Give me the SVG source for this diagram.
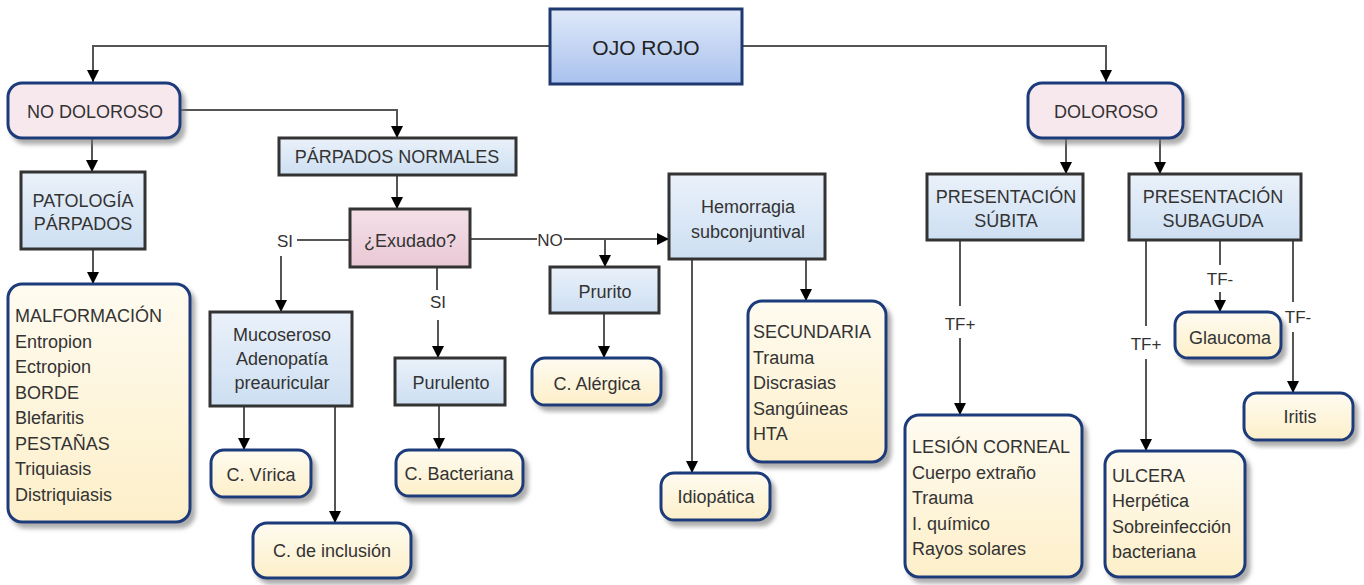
<svg xmlns="http://www.w3.org/2000/svg" width="1364" height="585" viewBox="0 0 1364 585">
<style>
text{font-family:"Liberation Sans",Arial,sans-serif;font-size:18px;fill:#333}
.c{text-anchor:middle}
.lbl{font-size:17px}
.big{font-size:21px;fill:#222}
.blue{fill:url(#gBlue);stroke:#333;stroke-width:3}
.pk{fill:url(#gPinkR);stroke:#333;stroke-width:3}
.top{fill:url(#gTop);stroke:#1f3870;stroke-width:3}
.cr{fill:url(#gCream);stroke:#1b3a7a;stroke-width:3;filter:url(#sh)}
.pr{fill:#f7e8ee;stroke:#1b3a7a;stroke-width:3;filter:url(#sh)}
.ln{fill:none;stroke:#555;stroke-width:2}
.ar{marker-end:url(#arr)}
</style>
<defs>
<linearGradient id="gBlue" x1="0" y1="0" x2="0" y2="1"><stop offset="0" stop-color="#eaf1fa"/><stop offset="1" stop-color="#cddff2"/></linearGradient>
<linearGradient id="gTop" x1="0" y1="0" x2="0" y2="1"><stop offset="0" stop-color="#dfe8f8"/><stop offset="1" stop-color="#a9c2ee"/></linearGradient>
<linearGradient id="gCream" x1="0" y1="0" x2="0" y2="1"><stop offset="0" stop-color="#fefbf0"/><stop offset="1" stop-color="#fdefc9"/></linearGradient>
<linearGradient id="gPinkR" x1="0" y1="0" x2="0" y2="1"><stop offset="0" stop-color="#f4e0e8"/><stop offset="1" stop-color="#e9c8d5"/></linearGradient>
<filter id="sh" x="-10%" y="-10%" width="130%" height="130%"><feDropShadow dx="4" dy="5" stdDeviation="2" flood-color="#777" flood-opacity="0.6"/></filter>
<marker id="arr" viewBox="0 0 10 10" refX="10" refY="5" markerWidth="13" markerHeight="12" markerUnits="userSpaceOnUse" orient="auto"><path d="M0,0 L10,5 L0,10 z" fill="#000"/></marker>
</defs>

<g id="connectors">
<path class="ln ar" d="M550,46 H93 V82"/>
<path class="ln ar" d="M742,46 H1106 V82"/>
<path class="ln ar" d="M180,110 H397 V138"/>
<path class="ln ar" d="M92,138 V172"/>
<path class="ln ar" d="M93,249 V284"/>
<path class="ln ar" d="M397,175 V209"/>
<path class="ln" d="M350,240 H297"/>
<text class="lbl c" x="285" y="247">SI</text>
<path class="ln ar" d="M281,256 V312"/>
<path class="ln" d="M437,267 V290"/>
<text class="lbl c" x="438" y="308">SI</text>
<path class="ln ar" d="M438,320 V358"/>
<path class="ln ar" d="M244,406 V450"/>
<path class="ln ar" d="M335,406 V523"/>
<path class="ln ar" d="M439,405 V450"/>
<path class="ln" d="M470,239 H537"/>
<text class="lbl c" x="550" y="246">NO</text>
<path class="ln ar" d="M564,239 H669"/>
<path class="ln ar" d="M605,239 V267"/>
<path class="ln ar" d="M604,313 V358"/>
<path class="ln ar" d="M692,259 V473"/>
<path class="ln ar" d="M806,259 V301"/>
<path class="ln ar" d="M1066,138 V174"/>
<path class="ln ar" d="M1160,138 V174"/>
<path class="ln" d="M960,240 V306"/>
<text class="lbl c" x="960" y="330">TF+</text>
<path class="ln ar" d="M960,338 V415"/>
<path class="ln" d="M1146,240 V326"/>
<text class="lbl c" x="1146" y="350">TF+</text>
<path class="ln ar" d="M1146,359 V451"/>
<path class="ln" d="M1220,240 V265"/>
<text class="lbl c" x="1220" y="285">TF-</text>
<path class="ln ar" d="M1220,292 V312"/>
<path class="ln" d="M1293,240 V302"/>
<text class="lbl c" x="1298" y="323">TF-</text>
<path class="ln ar" d="M1293,332 V393"/>
</g>

<g id="ojo-rojo"><rect class="top" x="550" y="9" width="192" height="75"/><text class="big c" x="646" y="55">OJO ROJO</text></g>
<g id="no-doloroso"><rect class="pr" x="8" y="83" width="172" height="55" rx="14"/><text class="c" x="95" y="118">NO DOLOROSO</text></g>
<g id="doloroso"><rect class="pr" x="1028" y="83" width="155" height="55" rx="14"/><text class="c" x="1106" y="118">DOLOROSO</text></g>
<g id="parpados-normales"><rect class="blue" x="279" y="138" width="237" height="37"/><text class="c" x="397" y="163">PÁRPADOS NORMALES</text></g>
<g id="patologia"><rect class="blue" x="21" y="172" width="124" height="77"/><text class="c" x="83" y="207">PATOLOGÍA</text><text class="c" x="83" y="230">PÁRPADOS</text></g>
<g id="malformacion"><rect class="cr" x="8" y="284" width="182" height="238" rx="14"/>
<text x="15" y="322">MALFORMACIÓN</text><text x="15" y="347.5">Entropion</text><text x="15" y="373">Ectropion</text><text x="15" y="398.5">BORDE</text><text x="15" y="424">Blefaritis</text><text x="15" y="449.5">PESTAÑAS</text><text x="15" y="475">Triquiasis</text><text x="15" y="500.5">Distriquiasis</text></g>
<g id="exudado"><rect class="pk" x="350" y="209" width="120" height="58"/><text class="c" x="410" y="247">¿Exudado?</text></g>
<g id="mucoseroso"><rect class="blue" x="210" y="312" width="142" height="94"/><text class="c" x="282" y="341">Mucoseroso</text><text class="c" x="282" y="365">Adenopatía</text><text class="c" x="282" y="389">preauricular</text></g>
<g id="purulento"><rect class="blue" x="395" y="358" width="110" height="47"/><text class="c" x="451" y="389">Purulento</text></g>
<g id="c-virica"><rect class="cr" x="211" y="450" width="100" height="47" rx="13"/><text class="c" x="261" y="481">C. Vírica</text></g>
<g id="c-inclusion"><rect class="cr" x="253" y="523" width="158" height="55" rx="14"/><text class="c" x="332" y="557">C. de inclusión</text></g>
<g id="c-bacteriana"><rect class="cr" x="396" y="450" width="127" height="46" rx="13"/><text class="c" x="459" y="480">C. Bacteriana</text></g>
<g id="prurito"><rect class="blue" x="550" y="267" width="109" height="46"/><text class="c" x="605" y="298">Prurito</text></g>
<g id="c-alergica"><rect class="cr" x="532" y="358" width="129" height="47" rx="13"/><text class="c" x="597" y="390">C. Alérgica</text></g>
<g id="hemorragia"><rect class="blue" x="669" y="174" width="156" height="85"/><text class="c" x="748" y="213">Hemorragia</text><text class="c" x="748" y="238">subconjuntival</text></g>
<g id="idiopatica"><rect class="cr" x="661" y="473" width="109" height="47" rx="13"/><text class="c" x="716" y="503">Idiopática</text></g>
<g id="secundaria"><rect class="cr" x="748" y="301" width="138" height="161" rx="14"/>
<text x="753" y="338">SECUNDARIA</text><text x="753" y="363.5">Trauma</text><text x="753" y="389">Discrasias</text><text x="753" y="414.5">Sangúineas</text><text x="753" y="440">HTA</text></g>
<g id="pres-subita"><rect class="blue" x="927" y="174" width="156" height="66"/><text class="c" x="1006" y="203">PRESENTACIÓN</text><text class="c" x="1006" y="227">SÚBITA</text></g>
<g id="pres-subaguda"><rect class="blue" x="1129" y="174" width="172" height="66"/><text class="c" x="1213" y="203">PRESENTACIÓN</text><text class="c" x="1213" y="227">SUBAGUDA</text></g>
<g id="lesion-corneal"><rect class="cr" x="905" y="415" width="177" height="162" rx="14"/>
<text x="912" y="453">LESIÓN CORNEAL</text><text x="912" y="478.5">Cuerpo extraño</text><text x="912" y="504">Trauma</text><text x="912" y="529.5">I. químico</text><text x="912" y="555">Rayos solares</text></g>
<g id="glaucoma"><rect class="cr" x="1175" y="312" width="106" height="46" rx="13"/><text class="c" x="1230" y="344">Glaucoma</text></g>
<g id="iritis"><rect class="cr" x="1244" y="393" width="109" height="47" rx="13"/><text class="c" x="1300" y="423">Iritis</text></g>
<g id="ulcera"><rect class="cr" x="1105" y="451" width="140" height="126" rx="14"/>
<text x="1112" y="482">ULCERA</text><text x="1112" y="507">Herpética</text><text x="1112" y="533">Sobreinfección</text><text x="1112" y="558">bacteriana</text></g>
</svg>
